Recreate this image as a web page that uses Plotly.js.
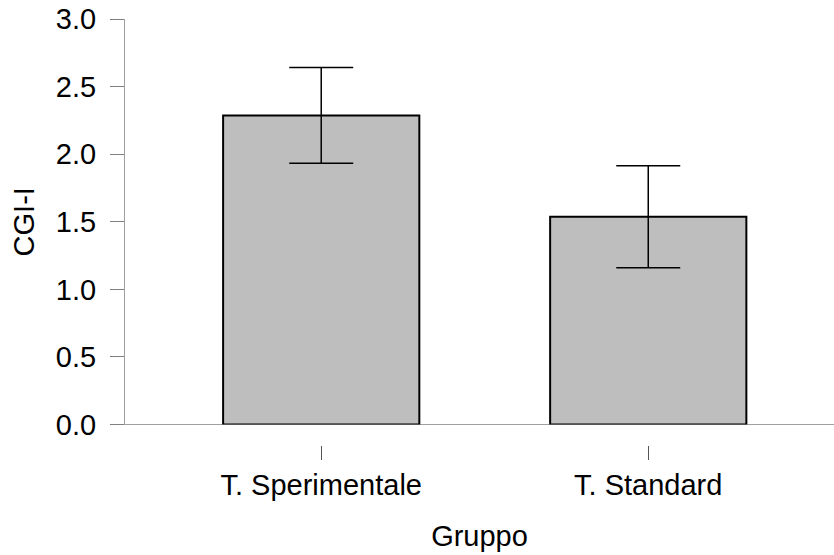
<!DOCTYPE html>
<html>
<head>
<meta charset="utf-8">
<script src="https://cdn.plot.ly/plotly-3.0.1.min.js"></script>
<style>html,body{margin:0;padding:0;background:#fff;}#chart{width:834px;height:555px;}</style>
</head>
<body>
<div id="chart"></div>
<script>
const categories = ["T. Sperimentale", "T. Standard"];
const means = [2.287, 1.537];
const errors = [0.354, 0.377];
const yTicks = [0, 0.5, 1.0, 1.5, 2.0, 2.5, 3.0];

const FONT = '"Liberation Sans", Arial, Helvetica, sans-serif';

const trace = {
  type: 'bar',
  x: categories,
  y: means,
  width: 0.6,
  marker: {color: '#bebebe', line: {color: '#000000', width: 2}},
  error_y: {type: 'data', array: errors, visible: true, color: '#000000', thickness: 1.5, width: 32},
  hoverinfo: 'none'
};

const layout = {
  width: 834,
  height: 555,
  margin: {l: 125, r: 0, t: 19, b: 110},
  paper_bgcolor: '#ffffff',
  plot_bgcolor: '#ffffff',
  showlegend: false,
  font: {family: FONT, size: 29, color: '#000000'},
  xaxis: {
    type: 'category',
    range: [-0.6, 1.568],
    anchor: 'free',
    position: 0,
    showline: false,
    showgrid: false,
    zeroline: false,
    ticks: 'outside',
    ticklen: 14,
    tickwidth: 1,
    tickcolor: '#555555',
    tickfont: {family: FONT, size: 29, color: '#000000'},
    title: {text: 'Gruppo', font: {family: FONT, size: 29, color: '#000000'}, standoff: 25}
  },
  yaxis: {
    domain: [0.048, 1],
    range: [0, 3],
    tickvals: yTicks,
    tickformat: '.1f',
    showline: true,
    linecolor: '#a0a0a0',
    linewidth: 1,
    showgrid: false,
    zeroline: true,
    zerolinecolor: '#a0a0a0',
    zerolinewidth: 1,
    ticks: 'outside',
    ticklen: 14,
    tickwidth: 1,
    tickcolor: '#808080',
    ticklabelstandoff: 8,
    tickfont: {family: FONT, size: 29, color: '#000000'},
    title: {text: 'CGI-I', font: {family: FONT, size: 29, color: '#000000'}, standoff: 12}
  }
};

Plotly.newPlot('chart', [trace], layout, {displayModeBar: false, staticPlot: true});
</script>
</body>
</html>
